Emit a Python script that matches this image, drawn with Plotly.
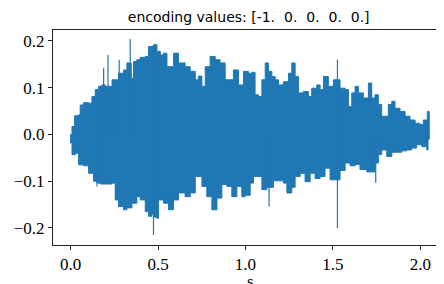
import plotly.graph_objects as go

# Upper envelope of the waveform (time in s, amplitude)
upper_t = [0.000, 0.008, 0.023, 0.046, 0.055, 0.074, 0.103, 0.122, 0.141, 0.160, 0.179, 0.198,
           0.237, 0.255, 0.274, 0.303, 0.322, 0.347, 0.360, 0.379, 0.398, 0.427, 0.446, 0.474,
           0.494, 0.499, 0.513, 0.531, 0.551, 0.589, 0.617, 0.655, 0.684, 0.713, 0.731, 0.751,
           0.770, 0.798, 0.827, 0.855, 0.884, 0.913, 0.931, 0.960, 0.989, 1.017, 1.037, 1.055,
           1.074, 1.094, 1.113, 1.131, 1.151, 1.170, 1.189, 1.217, 1.246, 1.265, 1.284, 1.303,
           1.331, 1.360, 1.379, 1.408, 1.427, 1.446, 1.474, 1.503, 1.541, 1.570, 1.589, 1.608,
           1.627, 1.646, 1.674, 1.703, 1.722, 1.741, 1.760, 1.779, 1.798, 1.817, 1.837, 1.855,
           1.884, 1.913, 1.941, 1.970, 1.998, 2.017, 2.040, 2.051]
upper_v = [0.000, 0.017, 0.040, 0.042, 0.063, 0.068, 0.067, 0.081, 0.096, 0.103, 0.106, 0.103,
           0.117, 0.117, 0.131, 0.138, 0.153, 0.120, 0.156, 0.160, 0.165, 0.167, 0.188, 0.192,
           0.175, 0.178, 0.170, 0.174, 0.145, 0.174, 0.153, 0.145, 0.135, 0.117, 0.125, 0.103,
           0.145, 0.167, 0.160, 0.153, 0.117, 0.117, 0.138, 0.106, 0.135, 0.131, 0.133, 0.085,
           0.081, 0.117, 0.153, 0.135, 0.124, 0.117, 0.106, 0.113, 0.131, 0.153, 0.124, 0.089,
           0.092, 0.081, 0.099, 0.106, 0.096, 0.124, 0.103, 0.117, 0.099, 0.096, 0.060, 0.089,
           0.103, 0.089, 0.078, 0.110, 0.078, 0.085, 0.064, 0.039, 0.039, 0.064, 0.071, 0.056,
           0.049, 0.039, 0.031, 0.024, 0.021, 0.031, 0.049, 0.010]

# Lower envelope of the waveform
lower_t = [0.000, 0.008, 0.027, 0.046, 0.074, 0.103, 0.131, 0.151, 0.170, 0.198, 0.237, 0.255,
           0.274, 0.303, 0.322, 0.351, 0.379, 0.398, 0.427, 0.446, 0.465, 0.480, 0.494, 0.503,
           0.531, 0.560, 0.589, 0.617, 0.655, 0.684, 0.713, 0.751, 0.779, 0.808, 0.837, 0.865,
           0.894, 0.922, 0.951, 0.979, 0.998, 1.027, 1.046, 1.065, 1.094, 1.122, 1.140, 1.160,
           1.189, 1.217, 1.237, 1.265, 1.284, 1.313, 1.341, 1.370, 1.398, 1.427, 1.455, 1.484,
           1.513, 1.541, 1.570, 1.598, 1.627, 1.655, 1.694, 1.741, 1.760, 1.779, 1.808, 1.837,
           1.865, 1.894, 1.922, 1.951, 1.979, 2.008, 2.037, 2.044, 2.051]
lower_v = [0.000, -0.018, -0.043, -0.040, -0.065, -0.067, -0.083, -0.100, -0.104, -0.106, -0.106, -0.104,
           -0.140, -0.154, -0.161, -0.157, -0.147, -0.133, -0.140, -0.165, -0.175, -0.170, -0.177, -0.179,
           -0.140, -0.147, -0.161, -0.140, -0.125, -0.133, -0.125, -0.090, -0.111, -0.133, -0.161, -0.136,
           -0.107, -0.111, -0.133, -0.111, -0.133, -0.130, -0.104, -0.090, -0.090, -0.118, -0.113, -0.113,
           -0.099, -0.099, -0.104, -0.125, -0.113, -0.090, -0.083, -0.101, -0.083, -0.094, -0.090, -0.072,
           -0.097, -0.097, -0.077, -0.061, -0.067, -0.064, -0.075, -0.080, -0.061, -0.043, -0.033, -0.047,
           -0.038, -0.038, -0.035, -0.033, -0.029, -0.022, -0.026, -0.033, -0.010]

# Isolated narrow peaks (time, amplitude)
spike_t = [0.189, 0.214, 0.278, 0.341, 0.474, 0.151, 0.474, 1.135, 1.526, 1.526, 1.745, 2.040]
spike_v = [0.143, 0.170, 0.160, 0.204, 0.192, -0.111, -0.215, -0.154, 0.160, -0.200, -0.103, -0.026]

x_ticks = [0.0, 0.5, 1.0, 1.5, 2.0]
y_ticks = [-0.2, -0.1, 0.0, 0.1, 0.2]
title_text = "encoding values: [-1.\u00a0 0.\u00a0 0.\u00a0 0.\u00a0 0.]"
x_label = "s"

BLUE = "#1f77b4"

fig = go.Figure()
fig.add_trace(go.Scatter(
    x=upper_t + lower_t[::-1], y=upper_v + lower_v[::-1],
    mode="lines", fill="toself", fillcolor=BLUE,
    line=dict(color=BLUE, width=1, shape="hv"), hoverinfo="skip", showlegend=False))

sx, sy = [], []
for t, v in zip(spike_t, spike_v):
    sx += [t, t, None]
    sy += [0.0, v, None]
fig.add_trace(go.Scatter(x=sx, y=sy, mode="lines",
                         line=dict(color=BLUE, width=1.2), showlegend=False))

tick_font = dict(family="Liberation Serif", size=17, color="black")
# page body has an 8px default margin, so the figure is sized to the visible window
fig.update_layout(
    width=436, height=276,
    margin=dict(l=45, r=0, t=22, b=39, autoexpand=False),
    plot_bgcolor="white", paper_bgcolor="white",
    title=dict(text=title_text, x=0.552, xanchor="center", xref="container",
               y=1 - 9 / 276, yanchor="middle", yref="container",
               font=dict(family="DejaVu Sans", size=14, color="black")),
    xaxis=dict(range=[-0.1006, 2.1354], tickvals=x_ticks, tickformat=".1f",
               showgrid=False, zeroline=False, showline=True, mirror=True,
               linecolor="#222", linewidth=1, ticks="outside", ticklen=4,
               tickcolor="#222", tickfont=tick_font),
    yaxis=dict(range=[-0.2364, 0.2235], tickvals=y_ticks, tickformat=".1f",
               showgrid=False, zeroline=False, showline=True, mirror=False,
               linecolor="#222", linewidth=1, ticks="outside", ticklen=4,
               tickcolor="#222", tickfont=tick_font),
    annotations=[dict(text=x_label, xref="paper", yref="paper", x=0.504, y=-0.17,
                      xanchor="center", yanchor="middle", showarrow=False,
                      font=tick_font)],
)

fig.write_html("out.html")
